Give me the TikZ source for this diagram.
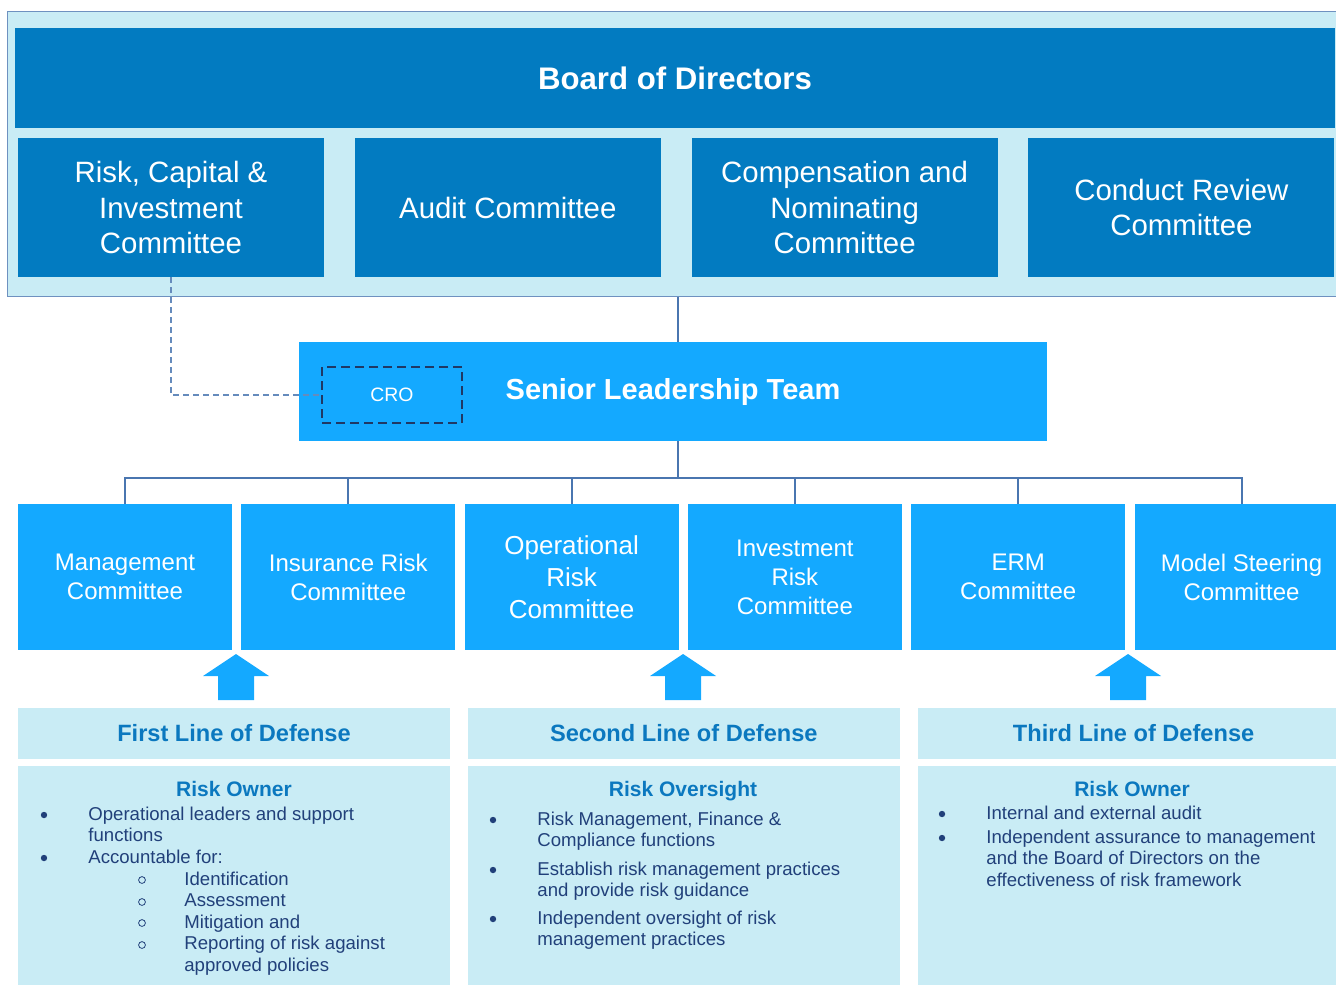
\documentclass[tikz,border=0pt]{standalone}
\usepackage{fontspec}
\setmainfont{Liberation Sans}
\usetikzlibrary{positioning}

\definecolor{boardblue}{HTML}{027BC1}
\definecolor{skyblue}{HTML}{14A9FF}
\definecolor{paleblue}{HTML}{C9ECF5}
\definecolor{linkblue}{HTML}{4A76B0}
\definecolor{navy}{HTML}{203864}
\definecolor{headblue}{HTML}{0B78BF}
\definecolor{textblue}{HTML}{21407A}

\begin{document}
\begin{tikzpicture}[x=0.5pt,y=-0.5pt]
    \tikzset{cmte/.style= {fill=boardblue, text=white, minimum width=153pt, minimum height=69.5pt, inner sep=0pt, align=center, font=\fontsize{14.7}{17.75}\selectfont},
             subcmte/.style= {fill=skyblue, text=white, minimum width=107pt, minimum height=73pt, inner sep=0pt, align=center, font=\fontsize{12}{14.5}\selectfont},
             lodhead/.style= {fill=paleblue, text=headblue, minimum width=216pt, minimum height=25.5pt, inner sep=0pt, font=\bfseries\fontsize{11.8}{14}\selectfont},
             lodbody/.style= {fill=paleblue, minimum width=216pt, minimum height=112.5pt, inner sep=0pt},
             paneltitle/.style= {text=headblue, anchor=base, inner sep=0pt, font=\bfseries\fontsize{10.5}{12}\selectfont},
             bullettext/.style= {text=textblue, anchor=base west, inner sep=0pt, align=left, font=\fontsize{9.3}{10.75}\selectfont},
             link/.style= {draw=linkblue, line width=1pt},}

    \useasboundingbox (0,0) rectangle (1336,984);

    % board and its committees
    \node [draw=linkblue!80, fill=paleblue, line width=0.5pt, minimum width=669pt, minimum height=142pt, inner sep=0pt] (outer) at (676,154) {};
    \node [fill=boardblue, text=white, minimum width=660pt, minimum height=50pt, font=\bfseries\fontsize{15.6}{18}\selectfont] (board) at (675,78) {Board of Directors};
    \node [cmte] (rci) at (171,207.5) {Risk, Capital \&\\Investment\\Committee};
    \node [cmte, right =15pt of rci] (audit) {Audit Committee};
    \node [cmte, right =15pt of audit] (comp) {Compensation and\\Nominating\\Committee};
    \node [cmte, right =15pt of comp] (conduct) {Conduct Review\\Committee};

    % senior leadership
    \node [fill=skyblue, text=white, minimum width=374pt, minimum height=49.5pt, font=\bfseries\fontsize{14.5}{17}\selectfont] (slt) at (673,391.5) {Senior Leadership Team};
    \node [draw=navy, line width=1.2pt, dash pattern=on 4.5pt off 2.5pt, text=white, minimum width=70pt, minimum height=28pt, font=\fontsize{9.7}{11}\selectfont] (cro) at (392,395) {CRO};

    % management committees
    \node [subcmte] (mgmt) at (125,577) {Management\\Committee};
    \node [subcmte, right =4.25pt of mgmt] (ins) {Insurance Risk\\Committee};
    \node [subcmte, right =4.25pt of ins, font=\fontsize{13}{16}\selectfont] (oper) {Operational\\Risk\\Committee};
    \node [subcmte, right =4.25pt of oper] (inv) {Investment\\Risk\\Committee};
    \node [subcmte, right =4.25pt of inv] (erm) {ERM\\Committee};
    \node [subcmte, right =4.25pt of erm] (model) {Model Steering\\Committee};

    \coordinate (spine) at (678,0);
    \coordinate (bus) at (678,478);

    \path[link] (spine |- outer.south) -- (spine |- slt.north);
    \path[link] (spine |- slt.south) -- (bus);
    \path[link] (mgmt.north) |- (bus) -| (model.north);
    \foreach \n in {ins,oper,inv,erm}
        \path[link] (\n.north) -- (\n.north |- bus);

    \path[draw=linkblue!85, line width=0.9pt, dash pattern=on 3pt off 2pt] (rci.south) |- (cro.west);

    % up arrows
    \foreach \ax in {236,683,1128}
        \fill[skyblue] (\ax,654) -- ++(33,22) -- ++(-15,0) -- ++(0,24) -- ++(-36,0) -- ++(0,-24) -- ++(-15,0) -- cycle;

    % lines of defense
    \node [lodhead] (h1) at (234,733.5) {First Line of Defense};
    \node [lodhead, right =8.5pt of h1] (h2) {Second Line of Defense};
    \node [lodhead, right =8.5pt of h2] (h3) {Third Line of Defense};
    \node [lodbody, below =3pt of h1] (p1) {};
    \node [lodbody, below =3pt of h2] (p2) {};
    \node [lodbody, below =3pt of h3] (p3) {};

    \node [paneltitle] (t1) at (234,796) {Risk Owner};
    \node [paneltitle] (t2) at (683,796) {Risk Oversight};
    \node [paneltitle] (t3) at (1132,796) {Risk Owner};

    % base = baseline of the last line
    \node [bullettext] (a1) at (88,841.5) {Operational leaders and support\\functions};
    \node [bullettext] (a2) at (88,863) {Accountable for:};
    \node [bullettext] (a3) at (184,971) {Identification\\Assessment\\Mitigation and\\Reporting of risk against\\approved policies};

    \node [bullettext] (b1) at (537,846.5) {Risk Management, Finance \&\\Compliance functions};
    \node [bullettext] (b2) at (537,896.5) {Establish risk management practices\\and provide risk guidance};
    \node [bullettext] (b3) at (537,945.5) {Independent oversight of risk\\management practices};

    \node [bullettext] (c1) at (986,819) {Internal and external audit};
    \node [bullettext] (c2) at (986,886) {Independent assurance to management\\and the Board of Directors on the\\effectiveness of risk framework};

    \foreach \bx/\by in {44/815,44/858,493/820,493/870,493/919,942/814,942/838}
        \fill[textblue] (\bx,\by) circle (1.6pt);
    \foreach \by in {880,902,923,945}
        \draw[textblue, line width=0.4pt] (142,\by) circle (1.7pt);
\end{tikzpicture}
\end{document}
